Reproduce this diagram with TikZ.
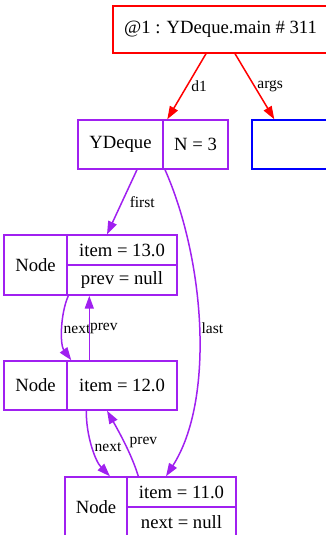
\documentclass[tikz,border=0pt]{standalone}
\usepackage{fontspec}
\setmainfont{Liberation Serif}
\usetikzlibrary{arrows.meta}
\definecolor{gvpurple}{RGB}{160,32,240}
\begin{document}
\begin{tikzpicture}[x=1pt,y=-1pt,
  cell/.style={draw, inner sep=0pt, line width=1.4pt, text=black, font=\fontsize{18.67}{20}\selectfont},
  pcell/.style={cell, draw=gvpurple},
  lbl/.style={inner sep=0pt, text=black, font=\fontsize{15.5}{17}\selectfont},
  conn/.style={line width=1.5pt, -{Triangle[length=13pt,width=9pt]}},
  pconn/.style={conn, draw=gvpurple},
  rconn/.style={conn, draw=red}]
\useasboundingbox (0,0) rectangle (325,535);
% top frame
\node[cell, draw=red, minimum width=215pt, minimum height=47pt] (main) at (220.5,29.5) {@1 : YDeque.main \# 311};
% YDeque record
\node[pcell, minimum width=85pt, minimum height=49pt] (ydL) at (120.5,144.5) {YDeque};
\node[pcell, minimum width=65pt, minimum height=49pt] (ydR) at (195.5,144.5) {N = 3};
% args
\node[cell, draw=blue, minimum width=76pt, minimum height=49pt] (args) at (290,144.5) {};
% Node 1
\node[pcell, minimum width=63pt, minimum height=60pt] (n1L) at (35.5,265) {Node};
\node[pcell, minimum width=110pt, minimum height=30pt] (n1a) at (122,250) {item = 13.0};
\node[pcell, minimum width=110pt, minimum height=30pt] (n1b) at (122,280) {prev = null};
% Node 2
\node[pcell, minimum width=63pt, minimum height=49pt] (n2L) at (35.5,385.5) {Node};
\node[pcell, minimum width=110pt, minimum height=49pt] (n2R) at (122,385.5) {item = 12.0};
% Node 3
\node[pcell, minimum width=62pt, minimum height=60pt] (n3L) at (96,507) {Node};
\node[pcell, minimum width=109pt, minimum height=30pt] (n3a) at (181.5,492) {item = 11.0};
\node[pcell, minimum width=109pt, minimum height=30pt] (n3b) at (181.5,522) {next = null};
% edges
\draw[rconn] ([xshift=-14.5pt]main.south) -- node[lbl, right=4pt] {d1} ([xshift=5pt]ydR.north west);
\draw[rconn] ([xshift=14.5pt]main.south) -- node[lbl, right=2pt] {args} ([xshift=23pt]args.north west);
\draw[pconn] ([xshift=16.5pt]ydL.south) -- node[lbl, right=7pt] {first} ([xshift=-15pt]n1a.north);
\draw[pconn] ([xshift=-30.5pt]ydR.south) .. controls (205,260) and (215,400) .. node[lbl, right=2pt] {last} ([xshift=-15.5pt]n3a.north);
\draw[pconn] ([xshift=2pt]n1b.south west) .. controls (60,315) and (60,345) .. node[lbl, right=0.5pt] {next} ([xshift=5pt]n2R.north west);
\draw[pconn] ([xshift=23pt]n2R.north west) -- node[lbl, right=0pt] {prev} ([xshift=23pt]n1b.south west);
\draw[pconn] ([xshift=20pt]n2R.south west) .. controls (86,435) and (95,461) .. node[lbl, right=1.5pt] {next} ([xshift=14pt]n3L.north);
\draw[pconn] ([xshift=12pt]n3a.north west) .. controls (132,455) and (118,430) .. node[lbl, right=4.5pt] {prev} ([xshift=-15pt]n2R.south);
\end{tikzpicture}
\end{document}
